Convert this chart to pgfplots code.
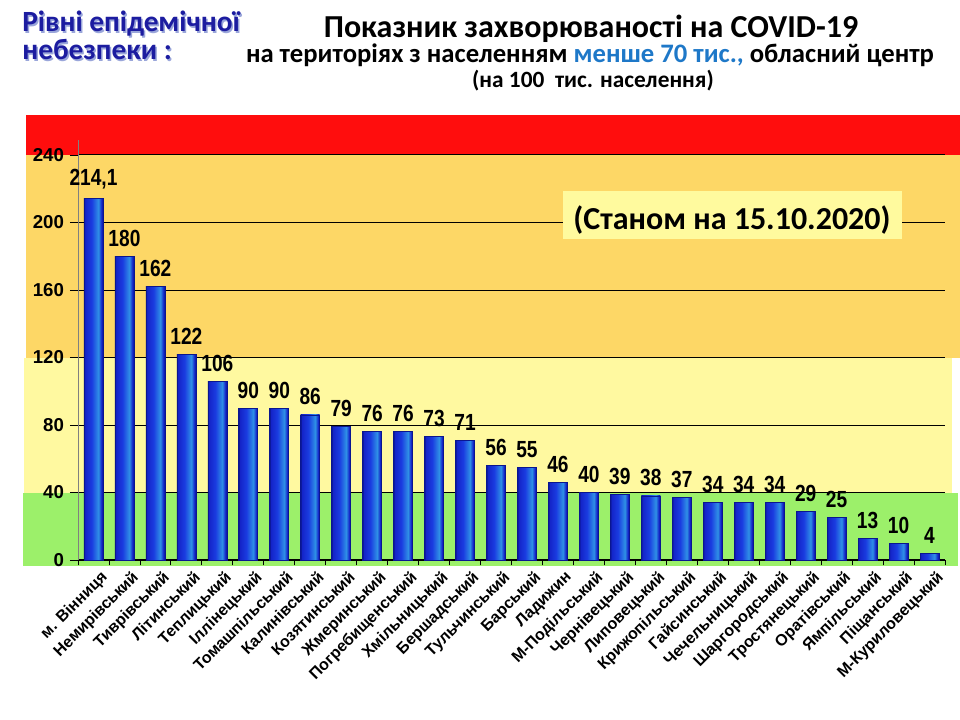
\documentclass[border=0pt]{standalone}
\usepackage{fontspec}
\setmainfont{Liberation Sans}
\newfontfamily\carl{Carlito}
\newfontfamily\narrow{Liberation Sans}[FakeStretch=0.82]
\usepackage{pgfplots}
\usepackage{pgfplotstable}
\pgfplotsset{compat=1.18}
\definecolor{bandred}{HTML}{FF0D0D}
\definecolor{bandorange}{HTML}{FDD766}
\definecolor{bandyellow}{HTML}{FFF9A0}
\definecolor{bandgreen}{HTML}{9CF06A}
\definecolor{boxyellow}{HTML}{FFFA9E}
\definecolor{titleblue}{HTML}{1C1CA0}
\definecolor{shadowblue}{HTML}{9AA6DA}
\definecolor{midblue}{HTML}{1E78C8}
\definecolor{bardark}{HTML}{0A1690}
\definecolor{barA}{HTML}{1424C8}
\definecolor{barB}{HTML}{1A3CE0}
\definecolor{barC}{HTML}{2F90E6}
\pgfdeclarehorizontalshading{barshade}{100bp}{color(0bp)=(bardark); color(25bp)=(bardark); color(28bp)=(barA); color(45bp)=(barB); color(63bp)=(barC); color(71bp)=(barA); color(75bp)=(bardark); color(100bp)=(bardark)}

\pgfplotstableread{
x y lab
0 214.1 214,1
1 180 180
2 162 162
3 122 122
4 106 106
5 90 90
6 90 90
7 86 86
8 79 79
9 76 76
10 76 76
11 73 73
12 71 71
13 56 56
14 55 55
15 46 46
16 40 40
17 39 39
18 38 38
19 37 37
20 34 34
21 34 34
22 34 34
23 29 29
24 25 25
25 13 13
26 10 10
27 4 4
}\datatable

\begin{document}
\begin{tikzpicture}
\begin{scope}[x=0.75pt,y=-0.75pt]
\path[use as bounding box] (0,0) rectangle (960,720);
% background bands (danger levels)
\fill[bandred] (26,115) rectangle (960,155);
\fill[bandorange] (26,155) rectangle (960,357.5);
\fill[bandyellow] (24,357.5) rectangle (952,492.5);
\fill[bandgreen] (23,492.5) rectangle (958,566);
% titles
\node[anchor=base west, inner sep=0pt, text=shadowblue] at (23.5,33.5) {\carl\bfseries\fontsize{22}{22}\selectfont Рівні епідемічної};
\node[anchor=base west, inner sep=0pt, text=shadowblue] at (23.5,61.5) {\carl\bfseries\fontsize{22}{22}\selectfont небезпеки :};
\node[anchor=base west, inner sep=0pt, text=titleblue] at (22,32) {\carl\bfseries\fontsize{22}{22}\selectfont Рівні епідемічної};
\node[anchor=base west, inner sep=0pt, text=titleblue] at (22,60) {\carl\bfseries\fontsize{22}{22}\selectfont небезпеки :};
\node[anchor=base, inner sep=0pt] at (591,38) {\carl\bfseries\fontsize{24}{24}\selectfont Показник захворюваності на COVID-19};
\node[anchor=base, inner sep=0pt] at (590,63) {\carl\bfseries\fontsize{20}{20}\selectfont на територіях з населенням \textcolor{midblue}{менше 70 тис.,} обласний центр};
\node[anchor=base, inner sep=0pt] at (593,88) {\carl\bfseries\fontsize{17.5}{17.5}\selectfont (на 100~~тис. населення)};
\end{scope}
\begin{axis}[
  at={(58.5pt,-420pt)}, anchor=south west,
  scale only axis, width=650.25pt, height=315.14pt,
  xmin=-0.5, xmax=27.5, ymin=0, ymax=249,
  axis x line*=bottom, axis y line*=left,
  x axis line style={black, line width=0.8pt},
  y axis line style={gray, line width=0.6pt},
  ytick={0,40,...,240},
  ymajorgrids, major grid style={black, line width=0.75pt},
  xtick={0,...,27},
  xticklabels={м. Вінниця, Немирівський, Тиврівський, Літинський, Теплицький, Іллінецький, Томашпільський, Калинівський, Козятинський, Жмеринський, Погребищенський, Хмільницький, Бершадський, Тульчинський, Барський, Ладижин, М-Подільський, Чернівецький, Липовецький, Крижопільський, Гайсинський, Чечельницький, Шаргородський, Тростянецький, Оратівський, Ямпільський, Піщанський, М-Куриловецький},
  minor xtick={-0.5,0.5,...,27.5},
  tick align=outside,
  major tick length=6pt, minor tick length=4pt,
  major x tick style={draw=none},
  minor x tick style={black, line width=0.6pt},
  ytick style={black, line width=0.6pt},
  yticklabel style={font=\bfseries\fontsize{14}{14}\selectfont, xshift=-1pt},
  xticklabel style={font=\bfseries\fontsize{12}{12}\selectfont, rotate=45, anchor=north east, inner sep=0pt, xshift=2.6pt, yshift=-4pt},
  /pgf/number format/assume math mode=true,
  nodes near coords, point meta=explicit symbolic,
  nodes near coords style={font=\narrow\bfseries\fontsize{17.5}{17.5}\selectfont, anchor=south, inner sep=1pt, yshift=6pt},
  clip=false,
]
\pgfplotsinvokeforeach{0,...,27}{
\addplot[ybar, bar width=14.25pt, bar shift=0pt, draw=bardark, line width=0.5pt, shade, shading=barshade, restrict x to domain=#1:#1] table[x=x,y=y,meta=lab]{\datatable};
}
\end{axis}
\begin{scope}[x=0.75pt,y=-0.75pt]
\node[fill=boxyellow, inner sep=0pt, minimum width=254.25pt, minimum height=36pt, anchor=north west] at (563,191) {};
\node[anchor=base, inner sep=0pt] at (732,230) {\carl\bfseries\fontsize{24}{24}\selectfont (Станом на 15.10.2020)};
\end{scope}
\end{tikzpicture}
\end{document}
